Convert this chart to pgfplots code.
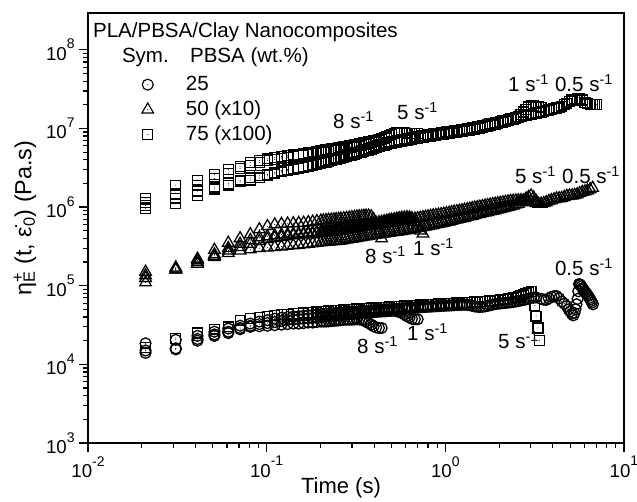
\documentclass[border=0pt]{standalone}
\usepackage{fontspec}
\setmainfont{Liberation Sans}
\usepackage{pgfplots}
\usepackage{pgfplotstable}
\pgfplotsset{compat=1.18}
\newcommand\fA{\fontsize{15.4}{18}\selectfont}
\newcommand\fT{\fontsize{14}{16}\selectfont}
\newcommand\fX{\fontsize{16.5}{19}\selectfont}
\newcommand\fY{\fontsize{17.5}{20}\selectfont}
\newcommand\tsup[1]{\raisebox{0.62em}{\fontsize{10.5}{12}\selectfont #1}}
\pgfdeclareplotmark{odot}{%
  \pgfpathcircle{\pgfpointorigin}{\pgfplotmarksize}\pgfusepathqstroke
  \pgfpathcircle{\pgfpointorigin}{0.4pt}\pgfusepathqfill}
\pgfdeclareplotmark{sqdot}{%
  \pgfpathrectangle{\pgfpoint{-\pgfplotmarksize}{-\pgfplotmarksize}}{\pgfpoint{2\pgfplotmarksize}{2\pgfplotmarksize}}\pgfusepathqstroke
  \pgfpathcircle{\pgfpointorigin}{0.4pt}\pgfusepathqfill}
\pgfdeclareplotmark{tridot}{%
  \pgfpathmoveto{\pgfpointpolar{90}{\pgfplotmarksize}}%
  \pgfpathlineto{\pgfpointpolar{210}{\pgfplotmarksize}}%
  \pgfpathlineto{\pgfpointpolar{330}{\pgfplotmarksize}}%
  \pgfpathclose\pgfusepathqstroke
  \pgfpathcircle{\pgfpointorigin}{0.4pt}\pgfusepathqfill}

% 75 wt.% PBSA (x100), squares
\pgfplotstableread{
t a b c d
0.021 1.30e6 1.15e6 1.05e6 0.95e6
0.031 1.90e6 1.50e6 1.10e6 1.30e6
0.041 2.20e6 1.90e6 1.40e6 1.60e6
0.051 2.60e6 2.30e6 1.70e6 1.80e6
0.061 3.00e6 2.70e6 1.90e6 2.00e6
0.071 3.30e6 3.10e6 2.10e6 2.20e6
0.081 3.70e6 3.40e6 2.20e6 2.35e6
0.091 3.90e6 3.70e6 2.35e6 2.50e6
0.101 4.10e6 3.90e6 2.50e6 2.60e6
0.111 4.25e6 4.05e6 2.65e6 2.75e6
0.121 4.40e6 4.20e6 2.80e6 2.90e6
0.131 4.50e6 4.30e6 2.90e6 3.00e6
0.141 4.60e6 4.40e6 3.00e6 3.10e6
0.151 4.70e6 4.50e6 3.10e6 3.20e6
0.161 4.80e6 4.60e6 3.20e6 3.30e6
0.171 4.90e6 4.70e6 3.30e6 3.40e6
0.181 5.00e6 4.80e6 3.40e6 3.50e6
0.191 5.10e6 4.85e6 3.50e6 3.60e6
0.201 5.20e6 4.95e6 3.60e6 3.70e6
0.208 5.28e6 5.00e6 3.68e6 3.78e6
0.215 5.35e6 5.05e6 3.75e6 3.90e6
0.222 5.42e6 5.12e6 3.82e6 3.98e6
0.23 5.50e6 5.20e6 3.90e6 4.05e6
0.238 5.55e6 5.25e6 3.98e6 4.12e6
0.245 5.60e6 5.30e6 4.05e6 4.20e6
0.253 5.68e6 5.35e6 4.12e6 4.30e6
0.26 5.75e6 5.40e6 4.20e6 4.40e6
0.27 5.82e6 5.50e6 4.30e6 4.50e6
0.28 5.90e6 5.60e6 4.40e6 4.60e6
0.29 6.00e6 5.68e6 4.50e6 4.70e6
0.30 6.10e6 5.75e6 4.60e6 4.80e6
0.31 6.20e6 5.82e6 4.70e6 4.90e6
0.32 6.30e6 5.90e6 4.80e6 5.00e6
0.33 6.40e6 6.00e6 4.90e6 5.10e6
0.34 6.50e6 6.10e6 5.00e6 5.20e6
0.35 6.60e6 6.20e6 5.10e6 5.30e6
0.36 6.70e6 6.30e6 5.20e6 5.40e6
0.372 6.80e6 6.45e6 5.32e6 5.55e6
0.385 6.90e6 6.60e6 5.45e6 5.70e6
0.397 7.00e6 6.75e6 5.58e6 5.85e6
0.41 7.10e6 6.90e6 5.70e6 6.00e6
0.425 7.25e6 7.10e6 5.85e6 6.15e6
0.44 7.40e6 7.30e6 6.00e6 6.30e6
0.455 7.50e6 7.55e6 6.15e6 6.45e6
0.47 7.60e6 7.80e6 6.30e6 6.60e6
0.485 nan 8.10e6 6.40e6 6.70e6
0.50 nan 8.40e6 6.50e6 6.80e6
0.518 nan 8.60e6 6.60e6 6.90e6
0.535 nan 8.80e6 6.70e6 7.00e6
0.552 nan 8.90e6 6.80e6 7.10e6
0.57 nan 8.90e6 6.90e6 7.20e6
0.59 nan 8.80e6 7.00e6 7.30e6
0.61 nan 8.70e6 7.10e6 7.40e6
0.63 nan 8.60e6 7.20e6 7.50e6
0.65 nan 8.60e6 7.30e6 7.60e6
0.675 nan 8.65e6 7.40e6 7.70e6
0.70 nan 8.70e6 7.50e6 7.80e6
0.725 nan nan 7.60e6 7.90e6
0.75 nan nan 7.70e6 8.00e6
0.775 nan nan 7.80e6 8.15e6
0.80 nan nan 7.90e6 8.30e6
0.827 nan nan 8.00e6 8.40e6
0.855 nan nan 8.10e6 8.50e6
0.885 nan nan 8.20e6 8.60e6
0.915 nan nan 8.30e6 8.70e6
0.947 nan nan 8.40e6 8.80e6
0.98 nan nan 8.50e6 8.90e6
1.015 nan nan 8.60e6 9.00e6
1.05 nan nan 8.70e6 9.10e6
1.085 nan nan 8.80e6 9.20e6
1.12 nan nan 8.90e6 9.30e6
1.16 nan nan 9.00e6 9.40e6
1.20 nan nan 9.10e6 9.50e6
1.24 nan nan 9.20e6 9.60e6
1.28 nan nan 9.30e6 9.70e6
1.325 nan nan 9.40e6 9.85e6
1.37 nan nan 9.50e6 1.00e7
1.415 nan nan 9.65e6 1.015e7
1.46 nan nan 9.80e6 1.03e7
1.51 nan nan 9.95e6 1.045e7
1.56 nan nan 1.01e7 1.06e7
1.615 nan nan 1.03e7 1.08e7
1.67 nan nan 1.05e7 1.10e7
1.725 nan nan 1.07e7 1.12e7
1.78 nan nan 1.09e7 1.14e7
1.84 nan nan 1.11e7 1.16e7
1.90 nan nan 1.13e7 1.18e7
1.965 nan nan 1.15e7 1.20e7
2.03 nan nan 1.18e7 1.22e7
2.10 nan nan 1.20e7 1.245e7
2.17 nan nan 1.23e7 1.27e7
2.245 nan nan 1.26e7 1.295e7
2.32 nan nan 1.29e7 1.32e7
2.40 nan nan 1.32e7 1.345e7
2.48 nan nan 1.36e7 1.37e7
2.565 nan nan 1.42e7 1.395e7
2.65 nan nan 1.50e7 1.42e7
2.74 nan nan 1.62e7 1.445e7
2.83 nan nan 1.75e7 1.47e7
2.925 nan nan 1.88e7 1.495e7
3.02 nan nan 1.95e7 1.52e7
3.12 nan nan 1.95e7 1.545e7
3.22 nan nan 1.90e7 1.57e7
3.33 nan nan 1.88e7 1.595e7
3.44 nan nan 1.85e7 1.62e7
3.555 nan nan nan 1.65e7
3.67 nan nan nan 1.68e7
3.795 nan nan nan 1.715e7
3.92 nan nan nan 1.75e7
4.055 nan nan nan 1.785e7
4.19 nan nan nan 1.82e7
4.335 nan nan nan 1.86e7
4.48 nan nan nan 1.92e7
4.635 nan nan nan 2.00e7
4.79 nan nan nan 2.10e7
4.955 nan nan nan 2.20e7
5.12 nan nan nan 2.30e7
5.295 nan nan nan 2.36e7
5.47 nan nan nan 2.40e7
5.66 nan nan nan 2.38e7
5.85 nan nan nan 2.30e7
6.05 nan nan nan 2.15e7
6.25 nan nan nan 2.05e7
6.465 nan nan nan 2.02e7
6.68 nan nan nan 2.00e7
6.85 nan nan nan 2.00e7
7.00 nan nan nan 2.00e7
}\sqtab

% 50 wt.% PBSA (x10), triangles
\pgfplotstableread{
t a b c d
0.021 1.50e5 1.35e5 1.10e5 1.25e5
0.031 1.70e5 1.65e5 1.60e5 1.60e5
0.041 2.20e5 2.00e5 1.90e5 2.10e5
0.051 2.85e5 2.50e5 2.30e5 2.40e5
0.061 3.50e5 3.00e5 2.60e5 2.80e5
0.071 4.00e5 3.40e5 2.80e5 3.10e5
0.081 4.50e5 3.80e5 2.90e5 3.40e5
0.091 5.20e5 4.10e5 3.00e5 3.70e5
0.101 5.70e5 4.25e5 3.05e5 3.90e5
0.111 6.00e5 4.35e5 3.10e5 4.05e5
0.121 6.10e5 4.45e5 3.15e5 4.15e5
0.131 6.15e5 4.50e5 3.20e5 4.25e5
0.141 6.20e5 4.55e5 3.25e5 4.35e5
0.151 6.25e5 4.60e5 3.30e5 4.40e5
0.161 6.30e5 4.65e5 3.35e5 4.45e5
0.171 6.40e5 4.70e5 3.40e5 4.50e5
0.181 6.50e5 4.75e5 3.45e5 4.55e5
0.191 6.60e5 4.80e5 3.50e5 4.60e5
0.201 6.70e5 4.85e5 3.55e5 4.65e5
0.208 6.75e5 4.90e5 3.58e5 4.70e5
0.215 6.80e5 4.95e5 3.60e5 4.75e5
0.222 6.85e5 5.00e5 3.62e5 4.80e5
0.23 6.90e5 5.05e5 3.65e5 4.85e5
0.238 6.95e5 5.10e5 3.68e5 4.90e5
0.245 7.00e5 5.15e5 3.70e5 4.95e5
0.253 7.05e5 5.20e5 3.72e5 5.00e5
0.26 7.10e5 5.25e5 3.75e5 5.05e5
0.27 7.18e5 5.32e5 3.80e5 5.12e5
0.28 7.25e5 5.40e5 3.85e5 5.20e5
0.29 7.32e5 5.48e5 3.90e5 5.28e5
0.30 7.40e5 5.55e5 3.95e5 5.35e5
0.31 7.48e5 5.62e5 4.00e5 5.42e5
0.32 7.55e5 5.70e5 4.05e5 5.50e5
0.33 7.60e5 5.78e5 4.10e5 5.58e5
0.34 7.65e5 5.85e5 4.15e5 5.65e5
0.35 7.70e5 5.92e5 4.20e5 5.72e5
0.36 7.75e5 6.00e5 4.25e5 5.80e5
0.372 7.75e5 6.08e5 4.30e5 5.85e5
0.385 7.60e5 6.15e5 4.35e5 5.90e5
0.397 7.00e5 6.22e5 4.40e5 5.95e5
0.41 6.00e5 6.30e5 4.45e5 6.00e5
0.425 5.00e5 6.40e5 4.50e5 6.08e5
0.44 4.00e5 6.50e5 4.55e5 6.15e5
0.455 nan 6.60e5 4.60e5 6.22e5
0.47 nan 6.70e5 4.65e5 6.30e5
0.485 nan 6.80e5 4.70e5 6.38e5
0.50 nan 6.90e5 4.75e5 6.45e5
0.518 nan 7.00e5 4.80e5 6.52e5
0.535 nan 7.10e5 4.85e5 6.60e5
0.552 nan 7.20e5 4.90e5 6.68e5
0.57 nan 7.30e5 4.95e5 6.75e5
0.59 nan 7.35e5 5.02e5 6.82e5
0.61 nan 7.40e5 5.10e5 6.90e5
0.63 nan 7.35e5 5.18e5 6.98e5
0.65 nan 7.20e5 5.25e5 7.05e5
0.675 nan 6.50e5 5.32e5 7.12e5
0.70 nan 5.50e5 5.40e5 7.20e5
0.725 nan 5.00e5 5.48e5 7.30e5
0.75 nan 4.60e5 5.55e5 7.40e5
0.775 nan nan 5.62e5 7.50e5
0.80 nan nan 5.70e5 7.60e5
0.827 nan nan 5.80e5 7.70e5
0.855 nan nan 5.90e5 7.80e5
0.885 nan nan 6.00e5 7.90e5
0.915 nan nan 6.10e5 8.00e5
0.947 nan nan 6.20e5 8.10e5
0.98 nan nan 6.30e5 8.20e5
1.015 nan nan 6.42e5 8.32e5
1.05 nan nan 6.55e5 8.45e5
1.085 nan nan 6.68e5 8.58e5
1.12 nan nan 6.80e5 8.70e5
1.16 nan nan 6.92e5 8.82e5
1.20 nan nan 7.05e5 8.95e5
1.24 nan nan 7.18e5 9.08e5
1.28 nan nan 7.30e5 9.20e5
1.325 nan nan 7.45e5 9.35e5
1.37 nan nan 7.60e5 9.50e5
1.415 nan nan 7.75e5 9.65e5
1.46 nan nan 7.90e5 9.80e5
1.51 nan nan 8.05e5 9.95e5
1.56 nan nan 8.20e5 1.01e6
1.615 nan nan 8.35e5 1.025e6
1.67 nan nan 8.50e5 1.04e6
1.725 nan nan 8.65e5 1.055e6
1.78 nan nan 8.80e5 1.07e6
1.84 nan nan 8.95e5 1.085e6
1.90 nan nan 9.10e5 1.10e6
1.965 nan nan 9.25e5 1.115e6
2.03 nan nan 9.40e5 1.13e6
2.10 nan nan 9.60e5 1.145e6
2.17 nan nan 9.80e5 1.16e6
2.245 nan nan 1.00e6 1.175e6
2.32 nan nan 1.02e6 1.19e6
2.40 nan nan 1.045e6 1.20e6
2.48 nan nan 1.07e6 1.21e6
2.565 nan nan 1.10e6 1.215e6
2.65 nan nan 1.15e6 1.22e6
2.74 nan nan 1.21e6 1.21e6
2.83 nan nan 1.28e6 1.20e6
2.925 nan nan 1.34e6 1.19e6
3.02 nan nan 1.40e6 1.18e6
3.12 nan nan 1.32e6 1.15e6
3.22 nan nan 1.20e6 1.12e6
3.33 nan nan nan 1.10e6
3.44 nan nan nan 1.10e6
3.555 nan nan nan 1.12e6
3.67 nan nan nan 1.15e6
3.795 nan nan nan 1.19e6
3.92 nan nan nan 1.22e6
4.055 nan nan nan 1.25e6
4.19 nan nan nan 1.28e6
4.335 nan nan nan 1.29e6
4.48 nan nan nan 1.30e6
4.635 nan nan nan 1.34e6
4.79 nan nan nan 1.38e6
4.955 nan nan nan 1.40e6
5.12 nan nan nan 1.40e6
5.295 nan nan nan 1.42e6
5.47 nan nan nan 1.45e6
5.66 nan nan nan 1.50e6
5.85 nan nan nan 1.55e6
6.05 nan nan nan 1.58e6
6.25 nan nan nan 1.62e6
6.465 nan nan nan 1.68e6
6.68 nan nan nan 1.75e6
}\tritab

% 25 wt.% PBSA, circles (column c: square symbols)
\pgfplotstableread{
t a b c d
0.021 1.85e4 1.40e4 1.65e4 1.50e4
0.031 1.60e4 1.55e4 2.15e4 2.05e4
0.041 2.00e4 2.10e4 2.50e4 2.30e4
0.051 2.30e4 2.40e4 2.80e4 2.60e4
0.061 2.50e4 2.60e4 3.00e4 2.85e4
0.071 2.80e4 2.90e4 3.60e4 3.10e4
0.081 3.00e4 3.10e4 3.80e4 3.30e4
0.091 3.05e4 3.25e4 3.95e4 3.50e4
0.101 3.10e4 3.35e4 4.10e4 3.65e4
0.111 3.15e4 3.45e4 4.20e4 3.80e4
0.121 3.20e4 3.55e4 4.30e4 3.90e4
0.131 3.25e4 3.65e4 4.35e4 4.00e4
0.141 3.30e4 3.70e4 4.40e4 4.05e4
0.151 3.30e4 3.75e4 4.45e4 4.10e4
0.161 3.35e4 3.80e4 4.50e4 4.15e4
0.171 3.40e4 3.85e4 4.55e4 4.20e4
0.181 3.40e4 3.90e4 4.60e4 4.25e4
0.191 3.45e4 3.95e4 4.65e4 4.30e4
0.201 3.50e4 4.00e4 4.70e4 4.35e4
0.208 3.50e4 4.02e4 4.72e4 4.38e4
0.215 3.50e4 4.05e4 4.75e4 4.40e4
0.222 3.52e4 4.08e4 4.78e4 4.42e4
0.23 3.55e4 4.10e4 4.80e4 4.45e4
0.238 3.58e4 4.12e4 4.82e4 4.48e4
0.245 3.60e4 4.15e4 4.85e4 4.50e4
0.253 3.62e4 4.18e4 4.88e4 4.52e4
0.26 3.65e4 4.20e4 4.90e4 4.55e4
0.27 3.68e4 4.25e4 4.92e4 4.58e4
0.28 3.70e4 4.30e4 4.95e4 4.60e4
0.29 3.70e4 4.35e4 4.98e4 4.62e4
0.30 3.70e4 4.40e4 5.00e4 4.65e4
0.31 3.72e4 4.42e4 5.02e4 4.68e4
0.32 3.75e4 4.45e4 5.05e4 4.70e4
0.33 3.72e4 4.48e4 5.08e4 4.72e4
0.34 3.70e4 4.50e4 5.10e4 4.75e4
0.35 3.60e4 4.52e4 5.12e4 4.78e4
0.36 3.50e4 4.55e4 5.15e4 4.80e4
0.372 3.35e4 4.58e4 5.18e4 4.82e4
0.385 3.20e4 4.60e4 5.20e4 4.85e4
0.397 3.05e4 4.62e4 5.22e4 4.88e4
0.41 2.95e4 4.65e4 5.25e4 4.90e4
0.425 2.90e4 4.68e4 5.28e4 4.92e4
0.44 2.90e4 4.70e4 5.30e4 4.95e4
0.455 nan 4.72e4 5.32e4 4.98e4
0.47 nan 4.75e4 5.35e4 5.00e4
0.485 nan 4.78e4 5.38e4 5.02e4
0.50 nan 4.80e4 5.40e4 5.05e4
0.518 nan 4.80e4 5.42e4 5.08e4
0.535 nan 4.75e4 5.45e4 5.10e4
0.552 nan 4.65e4 5.48e4 5.12e4
0.57 nan 4.50e4 5.50e4 5.15e4
0.59 nan 4.30e4 5.52e4 5.18e4
0.61 nan 4.10e4 5.55e4 5.20e4
0.63 nan 3.95e4 5.58e4 5.22e4
0.65 nan 3.80e4 5.60e4 5.25e4
0.675 nan 3.75e4 5.62e4 5.28e4
0.70 nan 3.75e4 5.65e4 5.30e4
0.725 nan nan 5.68e4 5.32e4
0.75 nan nan 5.70e4 5.35e4
0.775 nan nan 5.72e4 5.38e4
0.80 nan nan 5.75e4 5.40e4
0.827 nan nan 5.78e4 5.42e4
0.855 nan nan 5.80e4 5.45e4
0.885 nan nan 5.82e4 5.48e4
0.915 nan nan 5.85e4 5.50e4
0.947 nan nan 5.88e4 5.52e4
0.98 nan nan 5.90e4 5.55e4
1.015 nan nan 5.92e4 5.58e4
1.05 nan nan 5.95e4 5.60e4
1.085 nan nan 5.98e4 5.62e4
1.12 nan nan 6.00e4 5.65e4
1.16 nan nan 6.02e4 5.68e4
1.20 nan nan 6.05e4 5.70e4
1.24 nan nan 6.08e4 5.72e4
1.28 nan nan 6.10e4 5.75e4
1.325 nan nan 6.12e4 5.70e4
1.37 nan nan 6.15e4 5.65e4
1.415 nan nan 6.18e4 5.55e4
1.46 nan nan 6.20e4 5.45e4
1.51 nan nan 6.22e4 5.40e4
1.56 nan nan 6.25e4 5.35e4
1.615 nan nan 6.28e4 5.40e4
1.67 nan nan 6.30e4 5.45e4
1.725 nan nan 6.35e4 5.55e4
1.78 nan nan 6.40e4 5.65e4
1.84 nan nan 6.45e4 5.75e4
1.90 nan nan 6.50e4 5.85e4
1.965 nan nan 6.55e4 5.90e4
2.03 nan nan 6.60e4 5.95e4
2.10 nan nan 6.68e4 6.00e4
2.17 nan nan 6.75e4 6.05e4
2.245 nan nan 6.82e4 6.10e4
2.32 nan nan 6.90e4 6.15e4
2.40 nan nan 7.00e4 6.22e4
2.48 nan nan 7.10e4 6.30e4
2.565 nan nan 7.25e4 6.40e4
2.65 nan nan 7.40e4 6.50e4
2.74 nan nan 7.65e4 6.60e4
2.83 nan nan 7.90e4 6.70e4
2.925 nan nan 8.20e4 6.85e4
3.02 nan nan 8.50e4 7.00e4
3.12 nan nan nan 7.05e4
3.17 nan nan 5.60e4 nan
3.22 nan nan 4.10e4 7.10e4
3.30 nan nan 2.90e4 nan
3.36 nan nan 2.00e4 nan
3.44 nan nan nan 6.80e4
3.555 nan nan nan 6.65e4
3.67 nan nan nan 6.60e4
3.795 nan nan nan 6.90e4
3.92 nan nan nan 7.20e4
4.055 nan nan nan 7.35e4
4.19 nan nan nan 7.40e4
4.335 nan nan nan 6.90e4
4.48 nan nan nan 6.30e4
4.635 nan nan nan 5.90e4
4.79 nan nan nan 5.50e4
4.90 nan nan nan 5.00e4
5.00 nan nan nan 4.70e4
5.10 nan nan nan 4.40e4
5.20 nan nan nan 4.20e4
5.28 nan nan nan 4.50e4
5.35 nan nan nan 5.00e4
5.42 nan nan nan 5.80e4
5.50 nan nan nan 6.80e4
5.55 nan nan nan 8.50e4
5.60 nan nan nan 1.05e5
5.65 nan nan nan 1.04e5
5.70 nan nan nan 1.02e5
5.78 nan nan nan 9.80e4
5.85 nan nan nan 9.30e4
5.92 nan nan nan 9.00e4
6.00 nan nan nan 8.60e4
6.10 nan nan nan 8.20e4
6.20 nan nan nan 7.80e4
6.30 nan nan nan 7.40e4
6.40 nan nan nan 7.00e4
6.48 nan nan nan 6.70e4
6.55 nan nan nan 6.40e4
6.62 nan nan nan 6.10e4
6.70 nan nan nan 5.80e4
}\circtab

\begin{document}
\begin{tikzpicture}
\useasboundingbox (-66pt,-44.25pt) rectangle (411.75pt,332.25pt);
\begin{axis}[
  at={(0,0)}, anchor=south west,
  scale only axis, width=402pt, height=322.5pt,
  xmode=log, ymode=log, log basis x=10, log basis y=10,
  xmin=0.01, xmax=10, ymin=1e3, ymax=2.94e8,
  axis line style={line width=1.3pt},
  tick align=outside, tick pos=left,
  major tick length=6.5pt, minor tick length=3.8pt,
  tick style={black, line width=0.9pt},
  tick label style={font=\fT},
  xticklabel={10\tsup{\pgfmathparse{int(round(\tick))}\pgfmathresult}},
  yticklabel={10\tsup{\pgfmathparse{int(round(\tick))}\pgfmathresult}},
  xlabel={Time (s)},
  xlabel style={font=\fX, at={(axis description cs:0.472,-0.105)}, anchor=center},
  ylabel={η\rlap{\textsuperscript{+}}\textsubscript{E} (t, \.{ε}\textsubscript{0}) (Pa.s)},
  ylabel style={font=\fY, at={(axis description cs:-0.1175,0.523)}, anchor=center},
  legend cell align=left,
  legend style={at={(axis description cs:0.1002,0.858)}, anchor=north west,
    draw=none, fill=none, inner sep=0pt, font=\fA, row sep=3.25pt, column sep=24.25pt,
    nodes={inner sep=0pt, text height=12pt, text depth=3.5pt}},
  mark options={solid, line width=0.95pt},
]
\addlegendimage{black, only marks, mark=odot, mark size=4.1pt, mark options={line width=0.85pt}}
\addlegendentry{25}
\addlegendimage{black, only marks, mark=tridot, mark size=5.0pt, mark options={line width=0.85pt}}
\addlegendentry{50 (x10)}
\addlegendimage{black, only marks, mark=sqdot, mark size=3.7pt, mark options={line width=0.85pt}}
\addlegendentry{75 (x100)}

\addplot[black, only marks, mark=sqdot, mark size=3.7pt, forget plot] table[x=t, y=a] {\sqtab};
\addplot[black, only marks, mark=sqdot, mark size=3.7pt, forget plot] table[x=t, y=b] {\sqtab};
\addplot[black, only marks, mark=sqdot, mark size=3.7pt, forget plot] table[x=t, y=c] {\sqtab};
\addplot[black, only marks, mark=sqdot, mark size=3.7pt, forget plot] table[x=t, y=d] {\sqtab};

\addplot[black, only marks, mark=tridot, mark size=5.0pt, forget plot] table[x=t, y=a] {\tritab};
\addplot[black, only marks, mark=tridot, mark size=5.0pt, forget plot] table[x=t, y=b] {\tritab};
\addplot[black, only marks, mark=tridot, mark size=5.0pt, forget plot] table[x=t, y=c] {\tritab};
\addplot[black, only marks, mark=tridot, mark size=5.0pt, forget plot] table[x=t, y=d] {\tritab};

\addplot[black, only marks, mark=odot, mark size=4.1pt, forget plot] table[x=t, y=a] {\circtab};
\addplot[black, only marks, mark=odot, mark size=4.1pt, forget plot] table[x=t, y=b] {\circtab};
\addplot[black, only marks, mark=sqdot, mark size=3.7pt, forget plot] table[x=t, y=c] {\circtab};
\addplot[black, only marks, mark=odot, mark size=4.1pt, forget plot] table[x=t, y=d] {\circtab};

\node[anchor=base west, font=\fA, inner sep=0pt] at (axis description cs:0.009,0.944) {PLA/PBSA/Clay Nanocomposites};
\node[anchor=base west, font=\fA, inner sep=0pt] at (axis description cs:0.063,0.884) {Sym.};
\node[anchor=base west, font=\fA, inner sep=0pt] at (axis description cs:0.190,0.884) {PBSA (wt.\%)};

\node[anchor=base west, font=\fA, inner sep=0pt] at (axis cs:0.235,1.0e7) {8 s\textsuperscript{-1}};
\node[anchor=base west, font=\fA, inner sep=0pt] at (axis cs:0.536,1.3e7) {5 s\textsuperscript{-1}};
\node[anchor=base west, font=\fA, inner sep=0pt] at (axis cs:2.24,2.94e7) {1 s\textsuperscript{-1}};
\node[anchor=base west, font=\fA, inner sep=0pt] at (axis cs:4.10,2.94e7) {0.5 s\textsuperscript{-1}};
\node[anchor=base west, font=\fA, inner sep=0pt] at (axis cs:2.45,2.01e6) {5 s\textsuperscript{-1}};
\node[anchor=base west, font=\fA, inner sep=0pt] at (axis cs:4.49,2.01e6) {0.5 s\textsuperscript{-1}};
\node[anchor=base west, font=\fA, inner sep=0pt] at (axis cs:0.355,1.90e5) {8 s\textsuperscript{-1}};
\node[anchor=base west, font=\fA, inner sep=0pt] at (axis cs:0.659,2.40e5) {1 s\textsuperscript{-1}};
\node[anchor=base west, font=\fA, inner sep=0pt] at (axis cs:0.320,1.38e4) {8 s\textsuperscript{-1}};
\node[anchor=base west, font=\fA, inner sep=0pt] at (axis cs:0.610,2.01e4) {1 s\textsuperscript{-1}};
\node[anchor=base west, font=\fA, inner sep=0pt] at (axis cs:1.97,1.60e4) {5 s\textsuperscript{-1}};
\node[anchor=base west, font=\fA, inner sep=0pt] at (axis cs:4.10,1.34e5) {0.5 s\textsuperscript{-1}};
\end{axis}
\end{tikzpicture}
\end{document}
